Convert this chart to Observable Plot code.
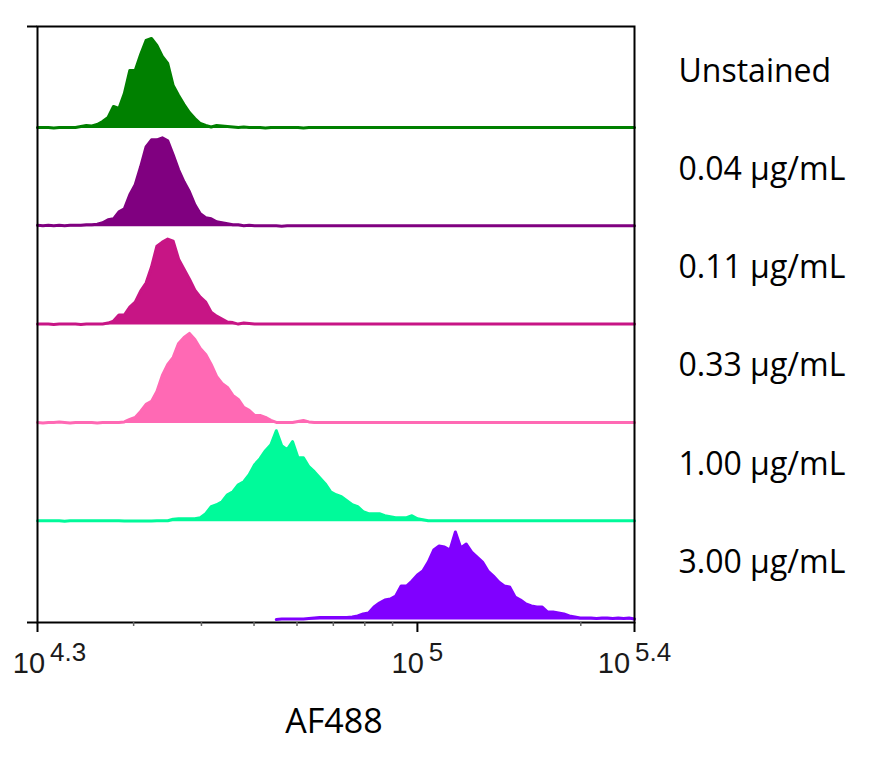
<!DOCTYPE html>
<html><head><meta charset="utf-8">
<script src="https://cdn.jsdelivr.net/npm/d3@7"></script>
<script src="https://cdn.jsdelivr.net/npm/@observablehq/plot@0.6"></script>
<style>html,body{margin:0;padding:0;background:#fff}</style>
</head><body><div id="chart"></div>
<script>
// ---- data ----
const sampleLabels = ["Unstained", "0.04 µg/mL", "0.11 µg/mL", "0.33 µg/mL", "1.00 µg/mL", "3.00 µg/mL"];
const sampleColors = ["#008000", "#800080", "#C71585", "#FF69B4", "#00FA9A", "#8000FF"];
// bin centres, log10(AF488), 4.30 .. 5.40
const logBins = d3.range(111).map(k => +(4.3 + k * 0.01).toFixed(2));

const unstained = [
  1,1,1,0.5,1,1,1,1,
  2,3,2.5,4,
  7,11,22,20,35,58,58,74,88,
  90,83,72,65,43,33,24,16,10,
  5,3,1.5,3,2.5,2,1.5,
  1,1.5,1,1,1,0.5,1,1,1,1,
  1,1,0.5,1,1,1,1,1,1,1,
  1,1,1,1,1,1,1,1,1,1,
  1,1,1,1,1,1,1,1,1,1,
  1,1,1,1,1,1,1,1,1,1,
  1,1,1,1,1,1,1,1,1,1,
  1,1,1,1,1,1,1,1,1,1,
  1,1,1,1
];
const conc004 = [
  1.5,1,1.5,1,1.5,1,1.5,1.5,1.5,2,2,
  2.5,4,7,8,15,18,32,42,60,80,
  87,87,89,86,72,57,45,35,22,13,
  9,8,5,4,3,2,2,
  1,1.5,1,1,1,1,1,0.5,1,1,
  1,1,1,1,1,1,1,1,1,1,
  1,1,1,1,1,1,1,1,1,1,
  1,1,1,1,1,1,1,1,1,1,
  1,1,1,1,1,1,1,1,1,1,
  1,1,1,1,1,1,1,1,1,1,
  1,1,1,1,1,1,1,1,1,1,
  1,1,1
];
const conc011 = [
  1,1,1,0.5,1,1,1,1,0.5,1,1,1,1,
  2,4,10,10,18,23,34,42,58,79,
  83,86,84,66,56,46,35,28,23,13,
  9,6,3,2.5,1,2,1.5,
  1,1,1,1,1,1,1,1,1,1,
  1,1,1,1,1,1,1,1,1,1,
  1,1,1,1,1,1,1,1,1,1,
  1,1,1,1,1,1,1,1,1,1,
  1,1,1,1,1,1,1,1,1,1,
  1,1,1,1,1,1,1,1,1,1,
  1,1,1,1,1,1,1,1,1,1,
  1
];
const conc033 = [
  1,0.5,1,1,1.5,1,0.5,1,1,1,1,0.5,1,1,1,1,
  1.5,4,6,12,19,22,32,48,59,66,
  80,86,90,84,75,69,59,47,40,36,
  28,24,16,13,8,8,6,3,1,
  1,1,1,2,3,1.5,
  1,1,1,1,1,1,1,1,1,1,
  1,1,1,1,1,1,1,1,1,1,
  1,1,1,1,1,1,1,1,1,1,
  1,1,1,1,1,1,1,1,1,1,
  1,1,1,1,1,1,1,1,1,1,
  1,1,1,1,1,1,1,1,1,1
];
const conc100 = [
  1,1,1,1,1,0.5,1,1,1,1,1,1,1,1,1,1,0.7,0.7,0.7,0.7,0.7,0.8,1,1,1,
  2.5,3,3,3,3,4,8,15,17,20,
  27,30,37,40,47,57,63,71,77,91,
  76,72,80,64,64,55,50,44,38,30,
  27,25,21,17,15,10,8,8,8,6,
  5,4,4,4,6,3,2,
  1,1,1,1,1,1,1,1,1,1,
  1,1,1,1,1,1,1,1,1,1,
  1,1,1,1,1,1,1,1,1,1,
  1,1,1,1,1,1,1,1,1
];
const conc300 = [
  null,null,null,null,null,null,null,null,null,null,
  null,null,null,null,null,null,null,null,null,null,
  null,null,null,null,null,null,null,null,null,null,
  null,null,null,null,null,null,null,
  null,null,null,null,null,null,null,0.5,
  1,1,1,1,1,1.5,2,2.5,2.5,2.5,
  2.5,2.5,2.5,3,4,6,7,13,17,20,
  21,24,34,34,39,45,49,58,70,74,
  73,70,88,72,76,68,63,58,49,44,
  38,34,33,23,20,16,14,13,13,8,
  8,7,6,4,3,2,2,2,1.5,2,
  2,1.5,2,1.5,2,1
];
const majorTickExponents = [4.3, 5, 5.4];
const minorTickValues = [3e4, 4e4, 5e4, 6e4, 7e4, 8e4, 9e4, 2e5];
const axisTitle = "AF488";

// ---- build table ----
const series = [unstained, conc004, conc011, conc033, conc100, conc300];
const rowStep = 98.3;
const rows = [];
const labelRows = [];
series.forEach((vals, i) => {
  const base = (series.length - 1 - i) * rowStep;
  labelRows.push({sample: sampleLabels[i], base});
  vals.forEach((v, k) => rows.push({
    sample: sampleLabels[i], x: 10 ** logBins[k], base,
    top: v == null ? NaN : base + v
  }));
});
const xMin = 10 ** majorTickExponents[0];
const xMax = 10 ** majorTickExponents[majorTickExponents.length - 1];
function majorTickValuesIndex(d) {
  let best = 0;
  majorTickExponents.forEach((e, i) => { if (Math.abs(10 ** e - d) < Math.abs(10 ** majorTickExponents[best] - d)) best = i; });
  return best;
}

const plot = Plot.plot({
  width: 876, height: 766,
  marginLeft: 37, marginRight: 242, marginTop: 26, marginBottom: 144,
  x: {type: "log", domain: [xMin, xMax]},
  y: {domain: [-2.5, 593.5]},
  color: {domain: sampleLabels, range: sampleColors},
  style: {background: "white", fontFamily: "Liberation Sans, Arial, sans-serif", overflow: "visible"},
  marks: [
    Plot.area(rows, {x1: "x", y1: "base", y2: "top", fill: "sample", z: "sample", curve: "linear"}),
    Plot.line(rows, {x: "x", y: "top", stroke: "sample", z: "sample", strokeWidth: 3, curve: "linear"}),
    Plot.frame({stroke: "black", strokeWidth: 2}),
    Plot.axisX({ticks: minorTickValues, tickSize: 4, stroke: "#666", strokeWidth: 1.5, tickFormat: () => "", label: null}),
    Plot.axisX({ticks: majorTickExponents.map(e => 10 ** e), tickSize: 10, strokeWidth: 2, stroke: "black",
      tickPadding: 20, fontSize: 29, fill: "#1a1a1a",
      tickFormat: d => "10^" + majorTickExponents[majorTickValuesIndex(d)], label: null}),
    Plot.axisY({ticks: [-2.5, 593.5], tickSize: 10, strokeWidth: 2, stroke: "black", tickFormat: () => "", label: null}),
    Plot.text(labelRows, {x: () => xMax, y: d => d.base + 47, text: "sample", dx: 44, textAnchor: "start",
      lineAnchor: "bottom", fontSize: 32, fontFamily: "Open Sans", fill: "black"}),
    Plot.text([axisTitle], {frameAnchor: "bottom", dx: -2, dy: 110, lineAnchor: "bottom", fontSize: 34,
      fontFamily: "Open Sans", fill: "black"})
  ]
});

// superscript exponents in tick labels
d3.select(plot).selectAll("text").each(function () {
  const t = this.textContent;
  if (/^10\^/.test(t)) {
    const exp = t.slice(3);
    this.textContent = "";
    this.appendChild(document.createTextNode("10"));
    const ts = document.createElementNS("http://www.w3.org/2000/svg", "tspan");
    ts.setAttribute("dy", "-12");
    ts.setAttribute("dx", "5");
    ts.setAttribute("font-size", "26");
    ts.textContent = exp;
    this.appendChild(ts);
    if (exp === String(majorTickExponents[0])) this.setAttribute("dx", "12");
  }
});
document.getElementById("chart").appendChild(plot);
</script>
</body></html>
